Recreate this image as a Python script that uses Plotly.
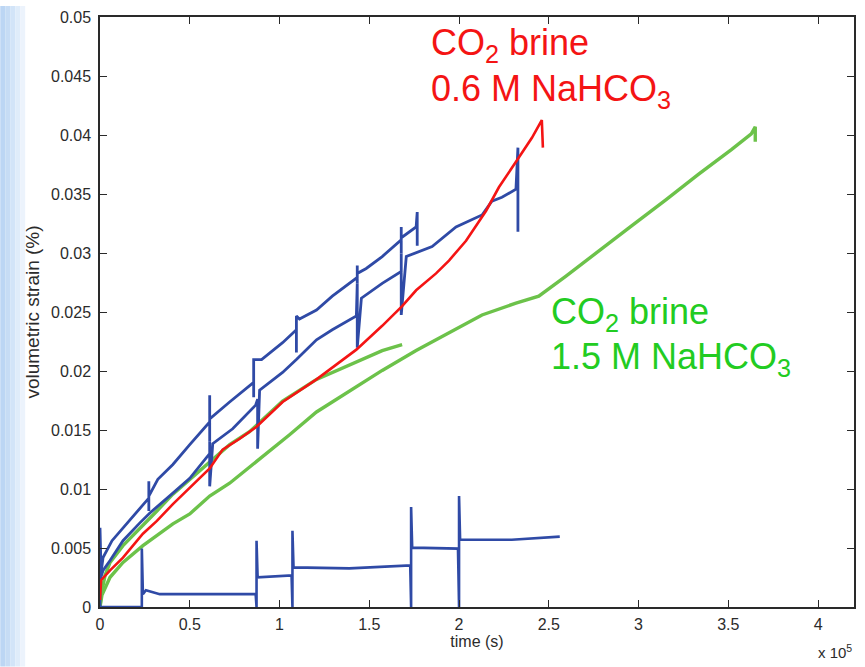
import plotly.graph_objects as go

# time in units of 1e5 s, volumetric strain in %
b1_t = [0, 0, 0.006, 0.017, 0.067, 0.128, 0.222, 0.272, 0.272, 0.272, 0.272, 0.322, 0.406, 0.500,
        0.611, 0.611, 0.611, 0.611, 0.722, 0.833, 0.856, 0.856, 0.856, 0.900, 1.017, 1.094, 1.094,
        1.094, 1.111, 1.206, 1.294, 1.433, 1.433, 1.433, 1.433, 1.483, 1.572, 1.678, 1.678, 1.678,
        1.678, 1.761, 1.767, 1.767]
b1_s = [0, 0.00671, 0.00294, 0.00419, 0.00562, 0.00671, 0.00839, 0.00923, 0.01065, 0.00814, 0.00940,
        0.01082, 0.01208, 0.01376, 0.01569, 0.01795, 0.01401, 0.01594, 0.01737, 0.01879, 0.01904,
        0.01778, 0.02097, 0.02097, 0.02240, 0.02349, 0.02156, 0.02466, 0.02441, 0.02517, 0.02634,
        0.02793, 0.02894, 0.02743, 0.02827, 0.02869, 0.02970, 0.03112, 0.03221, 0.02995, 0.03129,
        0.03221, 0.03347, 0.03062]

b2_t = [0, 0.017, 0.056, 0.128, 0.222, 0.278, 0.406, 0.500, 0.611, 0.611, 0.611, 0.628, 0.739, 0.867,
        0.878, 0.878, 0.889, 1.017, 1.094, 1.206, 1.294, 1.428, 1.433, 1.433, 1.456, 1.572, 1.678,
        1.678, 1.678, 1.706, 1.850, 1.983, 2.128, 2.183, 2.239, 2.317, 2.328, 2.328]
b2_s = [0.00227, 0.00310, 0.00394, 0.00562, 0.00713, 0.00797, 0.00965, 0.01091, 0.01300, 0.01401,
        0.01023, 0.01384, 0.01510, 0.01711, 0.01762, 0.01342, 0.01837, 0.01988, 0.02097, 0.02265,
        0.02349, 0.02466, 0.02743, 0.02198, 0.02617, 0.02743, 0.02844, 0.02995, 0.02475, 0.02970,
        0.03054, 0.03221, 0.03322, 0.03439, 0.03473, 0.03540, 0.03893, 0.03180]

b3_t = [0, 0.233, 0.233, 0.239, 0.256, 0.333, 0.867, 0.872, 0.872, 0.878, 1.067, 1.072, 1.072, 1.078,
        1.389, 1.728, 1.733, 1.733, 1.739, 1.994, 2.000, 2.000, 2.006, 2.294, 2.561]
b3_s = [0, 0, 0.00495, 0.00109, 0.00143, 0.00109, 0.00109, 0, 0.00562, 0.00252, 0.00268, 0, 0.00646,
        0.00336, 0.00327, 0.00352, 0, 0.00847, 0.00503, 0.00495, 0, 0.00940, 0.00570, 0.00570,
        0.00596]

r_t = [0, 0.006, 0.056, 0.128, 0.239, 0.317, 0.406, 0.500, 0.611, 0.683, 0.778, 0.872, 1.017, 1.206,
       1.428, 1.572, 1.683, 1.761, 1.872, 1.944, 2.039, 2.150, 2.222, 2.333, 2.406, 2.461, 2.467]
r_s = [0.00059, 0.00227, 0.00310, 0.00419, 0.00621, 0.00730, 0.00872, 0.01007, 0.01174, 0.01334,
       0.01426, 0.01527, 0.01737, 0.01929, 0.02181, 0.02383, 0.02550, 0.02684, 0.02827, 0.02936,
       0.03104, 0.03356, 0.03557, 0.03809, 0.03976, 0.04127, 0.03893]

g1_t = [0, 0.006, 0.028, 0.056, 0.128, 0.222, 0.317, 0.406, 0.500, 0.611, 0.722, 0.833, 1.017, 1.206,
        1.294, 1.428, 1.572, 1.683]
g1_s = [0, 0.00101, 0.00268, 0.00378, 0.00520, 0.00671, 0.00814, 0.00956, 0.01082, 0.01233, 0.01376,
        0.01485, 0.01745, 0.01929, 0.01988, 0.02072, 0.02173, 0.02223]

g2_t = [0, 0.011, 0.056, 0.128, 0.239, 0.406, 0.500, 0.611, 0.722, 0.872, 1.056, 1.206, 1.389, 1.572,
        1.761, 1.944, 2.128, 2.317, 2.444, 2.594, 2.778, 2.961, 3.150, 3.333, 3.517, 3.628, 3.650,
        3.650]
g2_s = [0, 0.00101, 0.00252, 0.00378, 0.00520, 0.00705, 0.00789, 0.00940, 0.01049, 0.01233, 0.01460,
        0.01653, 0.01829, 0.02005, 0.02173, 0.02324, 0.02475, 0.02575, 0.02634, 0.02802, 0.03020,
        0.03230, 0.03448, 0.03666, 0.03876, 0.04010, 0.04069, 0.03943]

x_ticks = [0, 0.5, 1, 1.5, 2, 2.5, 3, 3.5, 4]
x_tick_text = ["0", "0.5", "1", "1.5", "2", "2.5", "3", "3.5", "4"]
y_ticks = [0, 0.005, 0.01, 0.015, 0.02, 0.025, 0.03, 0.035, 0.04, 0.045, 0.05]
y_tick_text = ["0", "0.005", "0.01", "0.015", "0.02", "0.025", "0.03", "0.035", "0.04", "0.045", "0.05"]

BLUE = "#2f4aa6"
RED = "#f41414"
GREEN = "#6cc24a"

fig = go.Figure()
for t, s, c, w in [(g2_t, g2_s, GREEN, 3.4), (g1_t, g1_s, GREEN, 3.4),
                   (b3_t, b3_s, BLUE, 2.6), (b1_t, b1_s, BLUE, 2.8),
                   (b2_t, b2_s, BLUE, 2.8), (r_t, r_s, RED, 2.6)]:
    fig.add_trace(go.Scatter(x=t, y=s, mode="lines", line=dict(color=c, width=w),
                             showlegend=False, hoverinfo="skip"))

FONT = "Liberation Sans, Arial, sans-serif"
TXT = "#2b2b2b"
axis_common = dict(showline=True, linecolor="#2a2a2a", linewidth=1.5, mirror="ticks",
                   ticks="inside", ticklen=7, tickwidth=1.3, tickcolor="#2a2a2a",
                   showgrid=False, zeroline=False,
                   tickfont=dict(family=FONT, size=16, color=TXT))

fig.update_xaxes(range=[0, 4.2], tickvals=x_ticks, ticktext=x_tick_text, **axis_common,
                 ticklabelstandoff=2,
                 title=dict(text="time (s)", font=dict(family=FONT, size=16, color=TXT),
                            standoff=2))
fig.update_yaxes(range=[0, 0.05], tickvals=y_ticks, ticktext=y_tick_text, **axis_common,
                 ticklabelstandoff=4,
                 title=dict(text="volumetric strain (%)",
                            font=dict(family=FONT, size=19, color=TXT), standoff=6))

ann = [
    dict(text="CO<sub>2</sub> brine", x=0.437, y=0.952, color=RED),
    dict(text="0.6 M NaHCO<sub>3</sub>", x=0.437, y=0.874, color=RED),
    dict(text="CO<sub>2</sub> brine", x=0.595, y=0.497, color="#22cc22"),
    dict(text="1.5 M NaHCO<sub>3</sub>", x=0.595, y=0.421, color="#22cc22"),
]
for a in ann:
    fig.add_annotation(text=a["text"], x=a["x"], y=a["y"], xref="paper", yref="paper",
                       xanchor="left", yanchor="middle", showarrow=False,
                       font=dict(family=FONT, size=36, color=a["color"]))

fig.add_annotation(text="x 10<sup>5</sup>", x=1.0, y=-0.075, xref="paper", yref="paper",
                   xanchor="right", yanchor="middle", showarrow=False,
                   font=dict(family=FONT, size=15, color=TXT))

# slide background: soft blue band on the left edge
band = ["#bcd6f4", "#c6dcf5", "#d2e4f8", "#dfecfa", "#ecf3fc"]
for i, col in enumerate(band):
    fig.add_shape(type="rect", xref="paper", yref="paper", layer="below",
                  x0=(-100 + i * 5) / 756, x1=(-100 + (i + 1) * 5) / 756,
                  y0=-60 / 596, y1=(596 + 11) / 596, fillcolor=col, line_width=0)

fig.update_layout(width=865, height=667, margin=dict(l=100, r=9, t=11, b=60),
                  paper_bgcolor="white", plot_bgcolor="white")

fig.write_html("out.html")
